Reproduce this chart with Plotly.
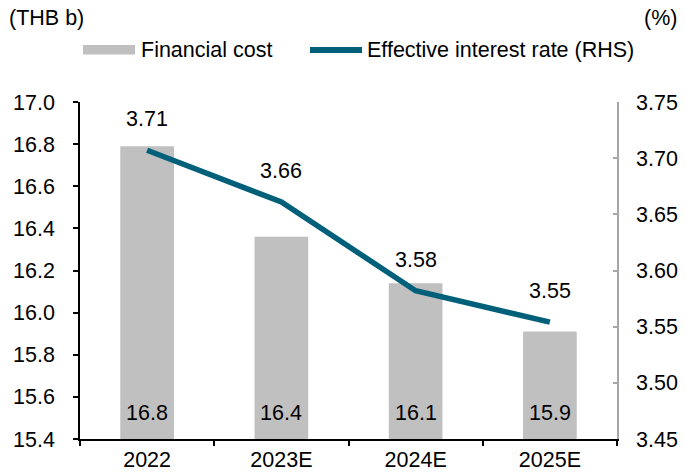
import plotly.graph_objects as go

# Financial cost (THB b) and effective interest rate (%), 2022 to 2025E
categories = ["2022", "2023E", "2024E", "2025E"]
financial_cost = [16.79, 16.36, 16.14, 15.91]
interest_rate = [3.707, 3.661, 3.582, 3.554]

left_ticks = [15.4, 15.6, 15.8, 16.0, 16.2, 16.4, 16.6, 16.8, 17.0]
right_ticks = [3.45, 3.50, 3.55, 3.60, 3.65, 3.70, 3.75]

W, H = 685, 474
M_L, M_R, M_T, M_B = 80, 68, 102, 35
PW, PH = W - M_L - M_R, H - M_T - M_B

BAR_COLOR = "#c0c0c0"
LINE_COLOR = "#00607a"
FONT = "Liberation Sans, Arial, sans-serif"
FS = 21.5


def px(x):
    return (x - M_L) / PW


def py(y):
    return (H - M_B - y) / PH


fig = go.Figure()
fig.add_trace(go.Bar(
    x=categories, y=financial_cost, name="Financial cost",
    marker=dict(color=BAR_COLOR, line=dict(width=0)), width=0.4,
    yaxis="y", showlegend=False,
))
fig.add_trace(go.Scatter(
    x=categories, y=interest_rate, name="Effective interest rate (RHS)",
    mode="lines", line=dict(color=LINE_COLOR, width=5.5),
    yaxis="y2", showlegend=False,
))

annotations = []
# value labels at the foot of each bar
for i, v in enumerate(financial_cost):
    annotations.append(dict(
        x=i, y=left_ticks[0], xref="x", yref="y", text=f"{v:.1f}",
        showarrow=False, yanchor="middle", yshift=26,
        font=dict(family=FONT, size=FS, color="#000000"),
    ))
# value labels above each point of the rate line
for i, v in enumerate(interest_rate):
    annotations.append(dict(
        x=i, y=v, xref="x", yref="y2", text=f"{v:.2f}",
        showarrow=False, yanchor="middle", yshift=31,
        font=dict(family=FONT, size=FS, color="#000000"),
    ))

# unit captions
annotations.append(dict(x=px(7), y=py(18), xref="paper", yref="paper",
                        text="(THB b)", showarrow=False, xanchor="left", yanchor="middle",
                        font=dict(family=FONT, size=FS, color="#000000")))
annotations.append(dict(x=px(679), y=py(18), xref="paper", yref="paper",
                        text="(%)", showarrow=False, xanchor="right", yanchor="middle",
                        font=dict(family=FONT, size=FS, color="#000000")))

# legend entries
annotations.append(dict(x=px(139), y=py(50), xref="paper", yref="paper",
                        text="Financial cost", showarrow=False, xanchor="left", yanchor="middle",
                        font=dict(family=FONT, size=FS, color="#000000")))
annotations.append(dict(x=px(365), y=py(50), xref="paper", yref="paper",
                        text="Effective interest rate (RHS)", showarrow=False,
                        xanchor="left", yanchor="middle",
                        font=dict(family=FONT, size=FS, color="#000000")))

shapes = [
    dict(type="rect", xref="paper", yref="paper",
         x0=px(83), x1=px(135), y0=py(54.5), y1=py(45),
         fillcolor=BAR_COLOR, line=dict(width=0)),
    dict(type="line", xref="paper", yref="paper",
         x0=px(310), x1=px(362), y0=py(50), y1=py(50),
         line=dict(color=LINE_COLOR, width=6)),
]

fig.update_layout(
    width=W, height=H,
    margin=dict(l=M_L, r=M_R, t=M_T, b=M_B, pad=0, autoexpand=False),
    paper_bgcolor="#ffffff", plot_bgcolor="#ffffff",
    font=dict(family=FONT, size=FS, color="#000000"),
    showlegend=False,
    xaxis=dict(
        type="category", categoryorder="array", categoryarray=categories,
        range=[-0.5, len(categories) - 0.5], autorange=False, automargin=False,
        showline=True, linecolor="#000000", linewidth=2,
        ticks="outside", tickson="boundaries", ticklen=5, tickwidth=1.5, tickcolor="#000000",
        tickangle=0, showgrid=False, zeroline=False,
        tickfont=dict(family=FONT, size=FS, color="#000000"),
    ),
    yaxis=dict(
        range=[left_ticks[0], left_ticks[-1]], autorange=False, automargin=False,
        tickvals=left_ticks,
        tickformat=".1f", showline=True, linecolor="#000000", linewidth=1.5,
        ticks="outside", ticklen=5, tickwidth=1.5, tickcolor="#000000",
        ticklabelstandoff=14,
        showgrid=False, zeroline=False,
        tickfont=dict(family=FONT, size=FS, color="#000000"),
    ),
    yaxis2=dict(
        range=[right_ticks[0], right_ticks[-1]], autorange=False, automargin=False,
        tickvals=right_ticks,
        tickformat=".2f", overlaying="y", side="right",
        showline=True, linecolor="#a6a6a6", linewidth=1.5,
        ticks="inside", ticklen=4, tickwidth=1.5, tickcolor="#a6a6a6",
        ticklabelstandoff=13,
        showgrid=False, zeroline=False,
        tickfont=dict(family=FONT, size=FS, color="#000000"),
    ),
    annotations=annotations,
    shapes=shapes,
)

fig.write_html("out.html")
